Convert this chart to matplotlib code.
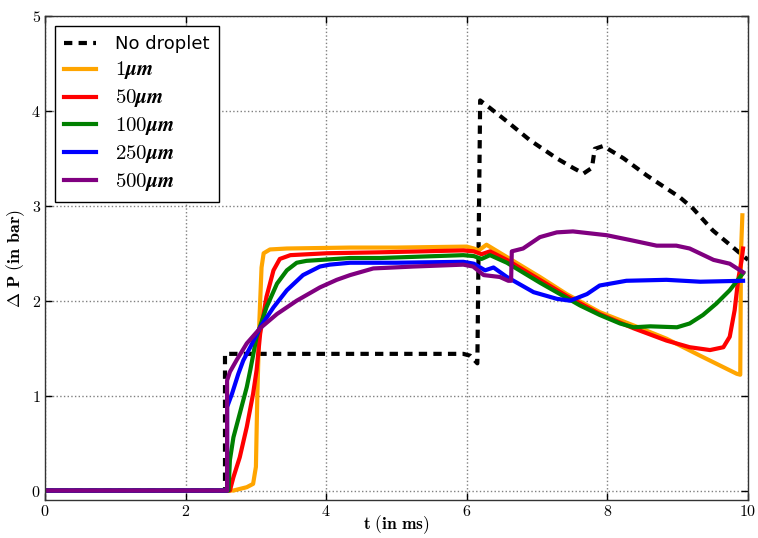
import matplotlib
matplotlib.use("Agg")
import matplotlib.pyplot as plt
from matplotlib.ticker import FuncFormatter

plt.rcParams['mathtext.fontset'] = 'cm'
plt.rcParams['font.family'] = ['DejaVu Sans']

# ---- data ----
t_nd = [0, 2.56, 2.56, 5.95, 6.05, 6.15, 6.19, 6.33, 6.57, 6.90, 7.28, 7.51, 7.66, 7.78, 7.82, 7.94, 8.23, 8.56, 9.03, 9.22, 9.50, 10.0]
p_nd = [0, 0, 1.44, 1.44, 1.42, 1.34, 4.11, 4.03, 3.89, 3.69, 3.50, 3.40, 3.34, 3.40, 3.60, 3.63, 3.50, 3.32, 3.09, 2.97, 2.74, 2.43]

t_1 = [0, 2.62, 2.68, 2.87, 2.96, 3.00, 3.02, 3.05, 3.08, 3.11, 3.20, 3.44, 4.34, 5.00, 6.00, 6.10, 6.17, 6.28, 6.57, 7.04, 7.42, 7.89, 8.37, 8.84, 9.32, 9.84, 9.89, 9.90, 9.92]
p_1 = [0, 0, 0.0, 0.035, 0.07, 0.25, 1.00, 1.80, 2.35, 2.50, 2.54, 2.55, 2.56, 2.56, 2.57, 2.55, 2.53, 2.59, 2.46, 2.25, 2.07, 1.88, 1.74, 1.60, 1.42, 1.23, 1.22, 2.50, 2.90]

t_50 = [0, 2.63, 2.68, 2.77, 2.87, 2.96, 3.01, 3.06, 3.15, 3.25, 3.34, 3.49, 4.01, 4.77, 5.95, 6.10, 6.21, 6.33, 6.57, 7.04, 7.42, 7.89, 8.37, 8.84, 9.17, 9.46, 9.65, 9.74, 9.81, 9.86, 9.91, 9.93]
p_50 = [0, 0, 0.14, 0.35, 0.67, 1.02, 1.27, 1.65, 2.04, 2.32, 2.44, 2.48, 2.50, 2.51, 2.53, 2.52, 2.49, 2.52, 2.43, 2.22, 2.05, 1.86, 1.71, 1.58, 1.51, 1.48, 1.51, 1.62, 1.90, 2.22, 2.43, 2.55]

t_100 = [0, 2.61, 2.63, 2.68, 2.77, 2.87, 2.92, 3.01, 3.15, 3.30, 3.44, 3.58, 3.72, 4.34, 4.77, 5.95, 6.10, 6.21, 6.33, 6.57, 7.04, 7.61, 7.89, 8.18, 8.37, 8.61, 8.99, 9.17, 9.36, 9.55, 9.74, 9.93]
p_100 = [0, 0, 0.32, 0.56, 0.81, 1.09, 1.27, 1.62, 1.93, 2.18, 2.32, 2.40, 2.42, 2.45, 2.45, 2.48, 2.47, 2.44, 2.48, 2.40, 2.19, 1.95, 1.85, 1.76, 1.72, 1.73, 1.72, 1.76, 1.85, 1.97, 2.11, 2.29]

t_250 = [0, 2.59, 2.59, 2.66, 2.75, 2.82, 2.92, 3.06, 3.25, 3.44, 3.67, 3.91, 4.05, 4.34, 5.00, 5.95, 6.10, 6.26, 6.38, 6.57, 6.95, 7.28, 7.47, 7.71, 7.89, 8.27, 8.84, 9.32, 9.93]
p_250 = [0, 0, 0.88, 1.02, 1.23, 1.37, 1.51, 1.72, 1.93, 2.11, 2.27, 2.36, 2.38, 2.40, 2.40, 2.41, 2.39, 2.32, 2.35, 2.25, 2.09, 2.02, 2.00, 2.07, 2.16, 2.21, 2.22, 2.20, 2.21]

t_500 = [0, 2.59, 2.59, 2.63, 2.73, 2.87, 3.06, 3.30, 3.58, 3.91, 4.15, 4.34, 4.67, 5.24, 5.95, 6.09, 6.24, 6.47, 6.59, 6.63, 6.64, 6.80, 7.04, 7.28, 7.51, 7.99, 8.32, 8.70, 8.98, 9.17, 9.51, 9.74, 9.93]
p_500 = [0, 0, 1.16, 1.25, 1.38, 1.55, 1.71, 1.86, 2.00, 2.14, 2.22, 2.27, 2.34, 2.36, 2.38, 2.36, 2.27, 2.25, 2.21, 2.21, 2.52, 2.55, 2.67, 2.72, 2.73, 2.69, 2.64, 2.58, 2.58, 2.55, 2.43, 2.39, 2.30]

labels = ['No droplet', r'$\mathbf{1}\boldsymbol{\mu m}$', r'$\mathbf{50}\boldsymbol{\mu m}$',
          r'$\mathbf{100}\boldsymbol{\mu m}$', r'$\mathbf{250}\boldsymbol{\mu m}$', r'$\mathbf{500}\boldsymbol{\mu m}$']
colors = ['black', '#FFA500', 'red', 'green', 'blue', 'purple']
x_ticks = [0, 2, 4, 6, 8, 10]
y_ticks = [0, 1, 2, 3, 4, 5]

fig = plt.figure(figsize=(7.58, 5.38), dpi=100)
ax = fig.add_axes([0.0594, 0.0706, 0.9274, 0.8997])

ax.plot(t_nd, p_nd, color=colors[0], lw=3, linestyle=(0, (2, 1.5)), label=labels[0])
series = [(t_1, p_1), (t_50, p_50), (t_100, p_100), (t_250, p_250), (t_500, p_500)]
for (tt, pp), c, lab in zip(series, colors[1:], labels[1:]):
    ax.plot(tt, pp, color=c, lw=3, label=lab, solid_joinstyle='round')

ax.set_xlim(0, 10)
ax.set_ylim(-0.1, 5)
ax.set_xticks(x_ticks)
ax.set_yticks(y_ticks)
fmt = FuncFormatter(lambda v, pos: r'$\mathbf{%d}$' % int(round(v)))
ax.xaxis.set_major_formatter(fmt)
ax.yaxis.set_major_formatter(fmt)
ax.tick_params(direction='in', top=True, right=True, length=5, width=1, labelsize=11.5, pad=3)
ax.grid(True, linestyle=':', color='gray', lw=1)
for s in ax.spines.values():
    s.set_linewidth(1)
    s.set_color('#333333')

ax.set_xlabel(r'$\mathbf{t\ (in\ ms)}$', fontsize=12.5, labelpad=-4)
ax.set_ylabel(r'$\mathbf{\Delta\ P\ (in\ bar)}$', fontsize=13, labelpad=3)

leg = ax.legend(loc='upper left', fontsize=13, fancybox=False, framealpha=1,
                edgecolor='black', handlelength=1.75, handletextpad=1.1, labelspacing=0.33,
                borderaxespad=0.55, borderpad=0.5)
leg.get_frame().set_linewidth(1)
for txt in leg.get_texts()[1:]:
    txt.set_fontsize(15)

fig.savefig('out.png', dpi=100)
